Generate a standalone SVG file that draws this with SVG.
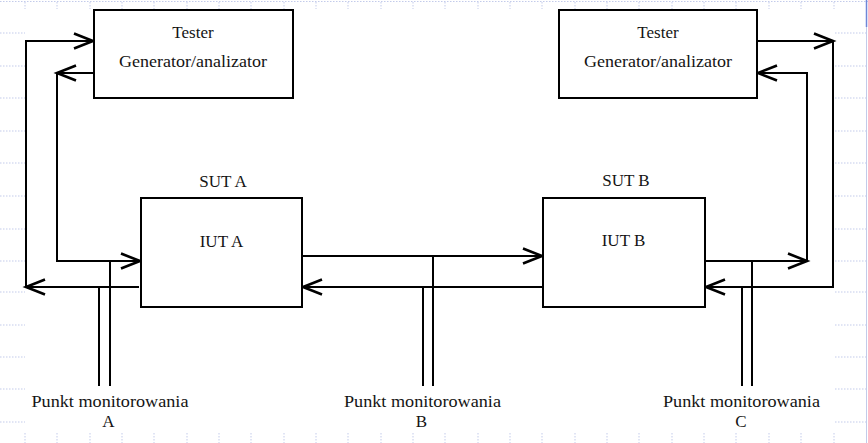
<svg xmlns="http://www.w3.org/2000/svg" width="868" height="443" viewBox="0 0 868 443">
<style>
.bg{stroke:#c3cbea;stroke-width:1;fill:none;stroke-dasharray:1.5 1.5}
.box{fill:#fff;stroke:#000;stroke-width:2}
.t{font-family:"Liberation Serif","Times New Roman",serif;font-size:17px;fill:#141414;text-anchor:middle}
.c{fill:none;stroke:#000;stroke-width:2}
.a{marker-end:url(#arr)}
</style>
<defs>
<marker id="arr" markerUnits="userSpaceOnUse" viewBox="-22 -10 24 20" refX="0" refY="0" markerWidth="24" markerHeight="20" orient="auto" overflow="visible">
<path d="M-19,-7.5 L0,0 L-19,7.5" fill="none" stroke="#000" stroke-width="2.6"/>
</marker>
</defs>
<rect width="868" height="443" fill="#fff"/>
<g id="background">
<line class="bg" x1="0" y1="1.5" x2="868" y2="1.5"/>
<path class="bg" d="M25,2V9M57,2V9M90,2V9M122,2V9M154,2V9M187,2V9M219,2V9M251,2V9M284,2V9M316,2V9M348,2V9M381,2V9M413,2V9M445,2V9M478,2V9M510,2V9M542,2V9M575,2V9M607,2V9M639,2V9M672,2V9M704,2V9M736,2V9M769,2V9M801,2V9M834,2V9"/>
<path class="bg" d="M25,433V443M57,433V443M90,433V443M122,433V443M154,433V443M187,433V443M219,433V443M251,433V443M284,433V443M316,433V443M348,433V443M381,433V443M413,433V443M445,433V443M478,433V443M510,433V443M542,433V443M575,433V443M607,433V443M639,433V443M672,433V443M704,433V443M736,433V443M769,433V443M801,433V443M834,433V443"/>
<path class="bg" d="M0,33H25M0,66H25M0,98H25M0,131H25M0,163H25M0,196H25M0,229H25M0,261H25M0,292H25M0,325H25M0,357H25M0,389H25M0,422H25"/>
<path class="bg" d="M835,33H866M835,66H866M835,98H866M835,131H866M835,163H866M835,196H866M835,229H866M835,261H866M835,292H866M835,325H866M835,357H866M835,389H866M835,422H866"/>
<line x1="866.5" y1="0" x2="866.5" y2="443" stroke="#c3cbea" stroke-width="1"/>
<line x1="866.5" y1="0" x2="866.5" y2="27" stroke="#6f86d8" stroke-width="1.5"/>
</g>
<g id="connectors">
<line class="c a" x1="139" y1="287" x2="26" y2="287"/>
<polyline class="c a" points="26,287 26,41 93,41"/>
<line class="c a" x1="94" y1="73" x2="57" y2="73"/>
<polyline class="c a" points="57,73 57,261 140,261"/>
<line class="c a" x1="302" y1="256" x2="542" y2="256"/>
<line class="c a" x1="543" y1="287" x2="303" y2="287"/>
<line class="c a" x1="705" y1="261" x2="807" y2="261"/>
<polyline class="c a" points="807,261 807,73 758,73"/>
<line class="c a" x1="757" y1="41" x2="833" y2="41"/>
<polyline class="c a" points="833,41 833,287 706,287"/>
<path class="c" d="M110,261V386M99,287V386M433,256V386M423,287V386M752,261V386M742,287V386"/>
</g>
<g id="tester-a">
<rect class="box" x="94" y="10" width="199" height="88"/>
<text class="t" x="193" y="38">Tester</text>
<text class="t" x="193" y="67" textLength="148" lengthAdjust="spacingAndGlyphs">Generator/analizator</text>
</g>
<g id="tester-b">
<rect class="box" x="559" y="10" width="198" height="88"/>
<text class="t" x="658" y="38">Tester</text>
<text class="t" x="658" y="67" textLength="148" lengthAdjust="spacingAndGlyphs">Generator/analizator</text>
</g>
<g id="iut-a">
<text class="t" x="223" y="187">SUT A</text>
<rect class="box" x="141" y="198" width="161" height="109"/>
<text class="t" x="221.5" y="247">IUT A</text>
</g>
<g id="iut-b">
<text class="t" x="626" y="186">SUT B</text>
<rect class="box" x="543" y="198" width="162" height="109"/>
<text class="t" x="623.5" y="246">IUT B</text>
</g>
<g id="punkt-a">
<text class="t" x="110" y="407" textLength="157" lengthAdjust="spacingAndGlyphs">Punkt monitorowania</text>
<text class="t" x="108.5" y="427">A</text>
</g>
<g id="punkt-b">
<text class="t" x="422.5" y="407" textLength="157" lengthAdjust="spacingAndGlyphs">Punkt monitorowania</text>
<text class="t" x="421.5" y="427">B</text>
</g>
<g id="punkt-c">
<text class="t" x="741.5" y="407" textLength="157" lengthAdjust="spacingAndGlyphs">Punkt monitorowania</text>
<text class="t" x="741" y="427">C</text>
</g>
</svg>
